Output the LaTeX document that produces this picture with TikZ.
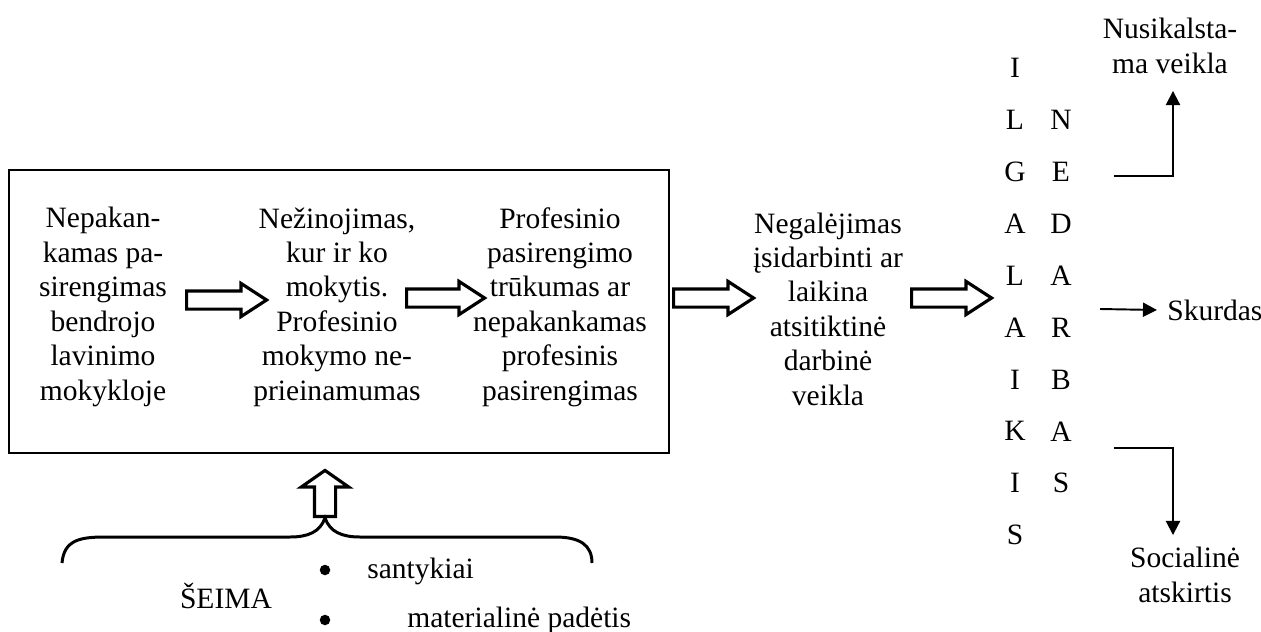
\documentclass[tikz,border=0pt]{standalone}
\usepackage{fontspec}
\setmainfont{Liberation Serif}
\usetikzlibrary{calc}
\usetikzlibrary{arrows.meta}
\usetikzlibrary{shapes.arrows}

\begin{document}
\begin{tikzpicture}[x=0.02cm,y=-0.02cm]
\tikzstyle{txt}=[align=center,inner sep=0pt,font=\fontsize{16.8}{19.6}\selectfont]
\tikzstyle{hol}=[draw,single arrow,line width=1.8pt,inner sep=0.15cm,minimum height=1.6cm,single arrow head extend=0.15cm,single arrow tip angle=66,anchor=tail]
\tikzstyle{conn}=[line width=1.1pt,-{Triangle[length=8pt,width=8pt]}]
%
\useasboundingbox (0,0) rectangle (1261,632);
%
\node[draw,line width=1pt,minimum width=13.2cm,minimum height=5.66cm,inner sep=0pt](frame) at (339,311.5){};
\node[txt](t1) at (103,307){Nepakan-\\kamas pa-\\sirengimas\\bendrojo\\lavinimo\\mokykloje};
\node[txt](t2) at (337,307){Nežinojimas,\\kur ir ko\\mokytis.\\Profesinio\\mokymo ne-\\prieinamumas};
\node[txt](t3) at (560,307){Profesinio\\pasirengimo\\trūkumas ar\\nepakankamas\\profesinis\\pasirengimas};
\node[txt](t4) at (828,309){Negalėjimas\\įsidarbinti ar\\laikina\\atsitiktinė\\darbinė\\veikla};
%
\node[hol](h1) at (185,300){};
\node[hol,minimum height=1.56cm](h2) at (405,298){};
\node[hol](h3) at (672,298){};
\node[hol](h4) at (910,298){};
%
\foreach \l [count=\i] in {I,L,G,A,L,A,I,K,I,S}
  \node[txt](il\i) at (1015,{68+(\i-1)*51.9}){\l};
\foreach \l [count=\i from 2] in {N,E,D,A,R,B,A,S}
  \node[txt](ne\i) at (1061,{68+(\i-1)*51.9}){\l};
%
\node[txt](crime) at (1170,46){Nusikalsta-\\ma veikla};
\node[txt,anchor=west](pov) at (1167,310){Skurdas};
\node[txt](excl) at (1185,575){Socialinė\\atskirtis};
%
\coordinate (c1) at (1114,176);
\coordinate (c2) at (1100,309);
\coordinate (c3) at (1114,448);
\draw[conn] (c1) -| ($(crime.south)+(3,17)$);
\draw[conn] (c2) -- ($(pov.west)+(-10,0)$);
\draw[conn] (c3) -| ($(excl.north)+(-12,-12)$);
%
\node[hol,shape border rotate=90,inner sep=0.18cm,minimum height=0.92cm,single arrow head extend=0.26cm,single arrow tip angle=110](up) at (325,518){};
\draw[line width=1.7pt] (62,563) .. controls (64,540) and (80,537) .. (105,537) -- (290,537) .. controls (308,537) and (320,532) .. (325,518) .. controls (330,532) and (342,537) .. (360,537) -- (555,537) .. controls (580,537) and (592,545) .. (592,563);
%
\node[txt,anchor=base](family) at (226,608){ŠEIMA};
\node[circle,fill,inner sep=0pt,minimum size=0.21cm](b1) at (325,570){};
\node[circle,fill,inner sep=0pt,minimum size=0.21cm](b2) at (325,620){};
\node[txt,anchor=base west](rel) at (367,578){santykiai};
\node[txt,anchor=base west](mat) at (407,627){materialinė padėtis};
\end{tikzpicture}
\end{document}
